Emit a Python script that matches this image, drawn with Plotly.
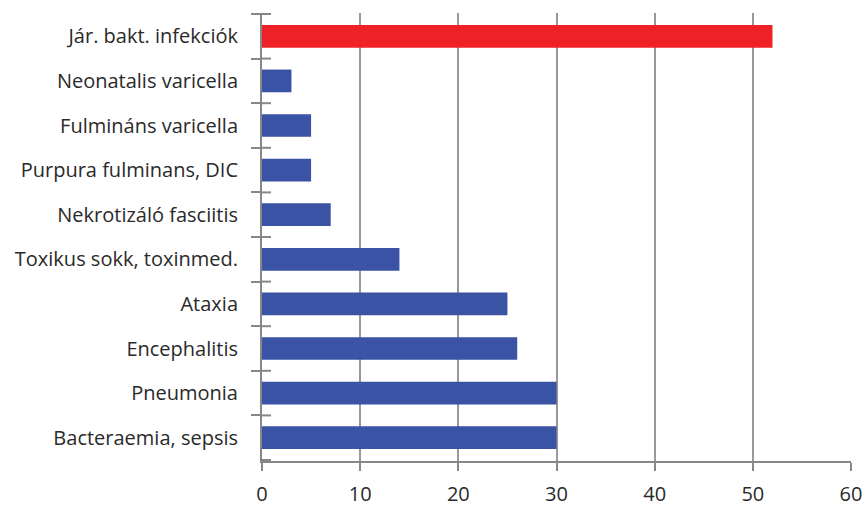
import plotly.graph_objects as go

categories = [
    "Jár. bakt. infekciók",
    "Neonatalis varicella",
    "Fulmináns varicella",
    "Purpura fulminans, DIC",
    "Nekrotizáló fasciitis",
    "Toxikus sokk, toxinmed.",
    "Ataxia",
    "Encephalitis",
    "Pneumonia",
    "Bacteraemia, sepsis",
]
values = [52, 3, 5, 5, 7, 14, 25, 26, 30, 30]
highlight = "Jár. bakt. infekciók"
x_ticks = [0, 10, 20, 30, 40, 50, 60]

RED = "#EE2226"
BLUE = "#3A53A4"
AXIS = "#878787"
GRID = "#999999"
FONT = "Open Sans"

colors = [RED if c == highlight else BLUE for c in categories]

fig = go.Figure(
    go.Bar(
        x=values,
        y=categories,
        orientation="h",
        marker=dict(color=colors, line=dict(width=0)),
        hoverinfo="x+y",
    )
)

W, H = 865, 507
ml, mr, mt, mb = 262, 14, 13, 46
plot_w = W - ml - mr

# inside half of the crossing category ticks
shapes = []
n = len(categories)
for i in range(n + 1):
    b = i - 0.5
    shapes.append(
        dict(
            type="line",
            xref="x domain",
            yref="y",
            x0=0,
            x1=9 / plot_w,
            y0=b,
            y1=b,
            line=dict(color=AXIS, width=2),
            layer="above",
        )
    )

fig.update_layout(
    width=W,
    height=H,
    margin=dict(l=ml, r=mr, t=mt, b=mb, pad=0, autoexpand=False),
    paper_bgcolor="white",
    plot_bgcolor="white",
    bargap=0.49,
    showlegend=False,
    font=dict(family=FONT, size=20, color="#2a2a2a"),
    shapes=shapes,
    xaxis=dict(
        range=[0, 60],
        tickvals=x_ticks,
        ticktext=[str(v) for v in x_ticks],
        showgrid=True,
        gridcolor=GRID,
        gridwidth=2,
        zeroline=False,
        showline=True,
        linecolor=AXIS,
        linewidth=2,
        ticks="outside",
        ticklen=8,
        tickwidth=2,
        tickcolor=AXIS,
        tickfont=dict(size=20),
        ticklabelstandoff=6,
        automargin=False,
        fixedrange=True,
    ),
    yaxis=dict(
        type="category",
        categoryorder="array",
        categoryarray=categories,
        autorange="reversed",
        tickson="boundaries",
        ticks="outside",
        ticklen=9,
        tickwidth=2,
        tickcolor=AXIS,
        showline=True,
        linecolor=AXIS,
        linewidth=2,
        showgrid=False,
        zeroline=False,
        ticklabelstandoff=18,
        automargin=False,
        fixedrange=True,
    ),
)

fig.write_html("out.html")
